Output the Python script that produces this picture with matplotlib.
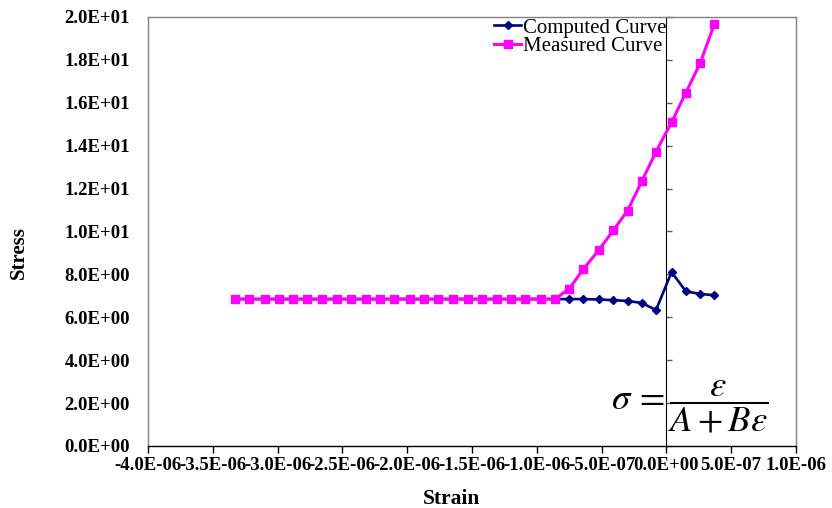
import matplotlib
matplotlib.use("Agg")
import matplotlib.pyplot as plt

plt.rcParams['font.family'] = ['Liberation Serif', 'DejaVu Serif']
plt.rcParams['mathtext.fontset'] = 'stix'

# strain values
strain = [-3.33e-6, -3.22e-6, -3.10e-6, -2.99e-6, -2.88e-6, -2.77e-6, -2.66e-6,
          -2.54e-6, -2.43e-6, -2.32e-6, -2.21e-6, -2.10e-6, -1.98e-6, -1.87e-6,
          -1.76e-6, -1.65e-6, -1.53e-6, -1.42e-6, -1.31e-6, -1.20e-6, -1.09e-6,
          -0.97e-6, -0.86e-6, -0.75e-6, -0.64e-6, -0.52e-6, -0.41e-6, -0.30e-6,
          -0.19e-6, -0.08e-6, 0.04e-6, 0.15e-6, 0.26e-6, 0.37e-6]

computed = [6.85, 6.85, 6.85, 6.85, 6.85, 6.85, 6.85, 6.85, 6.85, 6.85, 6.85,
            6.85, 6.85, 6.85, 6.85, 6.85, 6.85, 6.85, 6.85, 6.85, 6.85, 6.85,
            6.85, 6.85, 6.85, 6.83, 6.80, 6.76, 6.67, 6.34, 8.11, 7.21, 7.09, 7.03]

measured = [6.85, 6.85, 6.85, 6.85, 6.85, 6.85, 6.85, 6.85, 6.85, 6.85, 6.85,
            6.85, 6.85, 6.85, 6.85, 6.85, 6.85, 6.85, 6.85, 6.85, 6.85, 6.85,
            6.85, 7.33, 8.25, 9.15, 10.05, 10.97, 12.34, 13.72, 15.09, 16.47,
            17.84, 19.67]

x_ticks = [-4.0e-6, -3.5e-6, -3.0e-6, -2.5e-6, -2.0e-6, -1.5e-6, -1.0e-6,
           -5.0e-7, 0.0, 5.0e-7, 1.0e-6]
y_ticks = [0, 2, 4, 6, 8, 10, 12, 14, 16, 18, 20]

W, H = 832, 508
fig = plt.figure(figsize=(W / 100, H / 100), dpi=100)
ax = fig.add_axes([148 / W, (H - 446) / H, 648 / W, 429 / H])

ax.plot(strain, computed, color='#000080', lw=1.9, marker='D', ms=4.5,
        label='Computed Curve', zorder=3)
ax.plot(strain, measured, color='#FF00FF', lw=2.2, marker='s', ms=5.8,
        label='Measured Curve', zorder=4)

ax.set_xlim(-4.0e-6, 1.0e-6)
ax.set_ylim(0, 20)

# plot area border
for side in ['left', 'top', 'right']:
    ax.spines[side].set_color('#808080')
    ax.spines[side].set_linewidth(1.0)
ax.spines['bottom'].set_color('black')
ax.spines['bottom'].set_linewidth(1.0)

ax.set_xticks(x_ticks)
ax.set_xticklabels([f"{abs(v):.1E}" if v == 0 else f"{v:.1E}" for v in x_ticks],
                   fontweight='bold', fontsize=13.5)
ax.set_yticks(y_ticks)
ax.set_yticklabels([f"{float(v):.1E}" for v in y_ticks],
                   fontweight='bold', fontsize=13.5)
ax.tick_params(axis='x', direction='out', length=5, width=1, color='black', pad=3)
ax.tick_params(axis='y', length=0, pad=13)

# vertical axis crossing at strain = 0
ypos = (0 - x_ticks[0]) / (x_ticks[-1] - x_ticks[0])
sec = ax.secondary_yaxis(ypos)
sec.spines['left'].set_color('black')
sec.spines['left'].set_linewidth(1.0)
sec.set_yticks(y_ticks)
sec.set_yticklabels([])
sec.tick_params(axis='y', direction='out', length=4, width=1, color='#606060',
                labelleft=False, labelright=False)

fig.text(452 / W, 1 - 499 / H, 'Strain', fontweight='bold', fontsize=15.5,
         ha='center', va='center')
fig.text(19 / W, 1 - 253 / H, 'Stress', fontweight='bold', fontsize=15,
         ha='center', va='center', rotation=90)

leg = ax.legend(loc='upper left', bbox_to_anchor=(494 / W, 1 - 18 / H),
                bbox_transform=fig.transFigure, frameon=False, fontsize=15,
                borderpad=0, borderaxespad=0, handlelength=1.3,
                handletextpad=0.1, labelspacing=-0.05)

ax.text(0.836, 0.092, r'$\sigma\, = \dfrac{\varepsilon}{A + B\varepsilon}$',
        transform=ax.transAxes, ha='center', va='center', fontsize=26.5,
        zorder=5)

fig.savefig('out.png', dpi=100)
